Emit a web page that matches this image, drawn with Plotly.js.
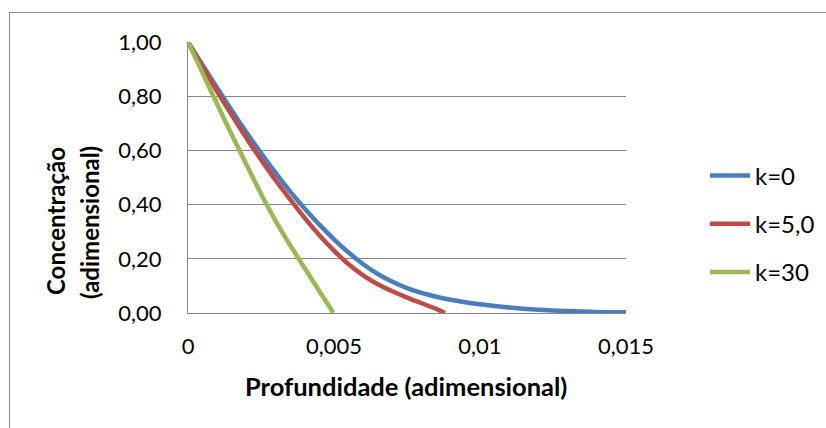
<!DOCTYPE html>
<html>
<head>
<meta charset="utf-8">
<script src="https://cdn.plot.ly/plotly-3.0.1.min.js"></script>
<style>
  html, body { margin: 0; padding: 0; background: #fff; }
  #wrap { position: relative; width: 826px; height: 428px; overflow: hidden; }
  #chart { position: absolute; left: 0; top: 0; width: 826px; height: 428px; }
  #frame { position: absolute; left: 9px; top: 12px; width: 900px; height: 500px;
           border-left: 1px solid #8a8a8a; border-top: 1px solid #8a8a8a; pointer-events: none; }
</style>
</head>
<body>
<div id="wrap">
  <div id="chart"></div>
  <div id="frame"></div>
</div>
<script>
// Depth (dimensionless) and concentration values
const depthK0   = [0, 0.0005, 0.001, 0.0015, 0.002, 0.0025, 0.003, 0.0035, 0.004, 0.0045, 0.005, 0.0055, 0.006, 0.0065, 0.007, 0.0075, 0.008, 0.0085, 0.009, 0.0095, 0.010, 0.011, 0.012, 0.013, 0.014, 0.015];
const concK0    = [1.00, 0.915, 0.83, 0.747, 0.667, 0.59, 0.517, 0.448, 0.385, 0.326, 0.272, 0.223, 0.18, 0.144, 0.115, 0.092, 0.074, 0.06, 0.049, 0.04, 0.032, 0.02, 0.012, 0.007, 0.004, 0.003];

const depthK5   = [0, 0.0005, 0.001, 0.0015, 0.002, 0.0025, 0.003, 0.0035, 0.004, 0.0045, 0.005, 0.0055, 0.006, 0.0065, 0.007, 0.0075, 0.008, 0.0085, 0.0088];
const concK5    = [1.00, 0.907, 0.817, 0.73, 0.646, 0.566, 0.49, 0.419, 0.35, 0.287, 0.23, 0.18, 0.139, 0.106, 0.08, 0.057, 0.036, 0.015, 0.0];

const depthK30  = [0, 0.0005, 0.001, 0.0015, 0.002, 0.0025, 0.003, 0.0035, 0.004, 0.0045, 0.00498];
const concK30   = [1.00, 0.885, 0.77, 0.658, 0.548, 0.44, 0.34, 0.25, 0.165, 0.08, 0.0];

const seriesNames = ["k=0", "k=5,0", "k=30"];
const xTickVals = [0, 0.005, 0.01, 0.015];
const xTickText = ["0", "0,005", "0,01", "0,015"];
const yTickVals = [0, 0.2, 0.4, 0.6, 0.8, 1.0];

const FONT = "Lato, 'Open Sans', sans-serif";
const colors = ["#4A7EBB", "#BE4B48", "#98B954"];

const traces = [
  {x: depthK0, y: concK0, name: seriesNames[0]},
  {x: depthK5, y: concK5, name: seriesNames[1]},
  {x: depthK30, y: concK30, name: seriesNames[2]}
].map((t, i) => Object.assign(t, {
  type: "scatter", mode: "lines", line: {color: colors[i], width: 4.5, shape: "spline", smoothing: 0.7},
  legendgroup: "g" + i, hoverinfo: "skip"
}));

const W = 826, H = 428, L = 188, R = 200, T = 42, B = 115;
const pw = W - L - R, ph = H - T - B;
const px = v => (v - L) / pw;
const py = v => (H - B - v) / ph;

const layout = {
  width: W, height: H,
  margin: {l: L, r: R, t: T, b: B, pad: 0, autoexpand: false},
  paper_bgcolor: "#fff", plot_bgcolor: "#fff",
  separators: ",.",
  font: {family: FONT, size: 24, color: "#000"},
  showlegend: true,
  legend: {
    x: px(705), y: py(224), xanchor: "left", yanchor: "middle",
    traceorder: "grouped", tracegroupgap: 14,
    font: {family: FONT, size: 24, color: "#000"},
    itemwidth: 40, bgcolor: "rgba(0,0,0,0)"
  },
  xaxis: {
    range: [0, 0.015], tickvals: xTickVals, ticktext: xTickText,
    showgrid: false, zeroline: false, showline: true, linecolor: "#868686", linewidth: 1,
    ticks: "", ticklabelstandoff: 14, tickfont: {family: FONT, size: 22}
  },
  yaxis: {
    range: [0, 1], tickvals: yTickVals, tickformat: ".2f",
    showgrid: true, gridcolor: "#868686", gridwidth: 1,
    zeroline: false, showline: true, linecolor: "#868686", linewidth: 1,
    ticks: "", ticklabelstandoff: 21, tickfont: {family: FONT, size: 22}
  },
  annotations: [
    {text: "<b>Profundidade (adimensional)</b>", xref: "paper", yref: "paper",
     x: px(406), y: py(386), xanchor: "center", yanchor: "middle", showarrow: false,
     font: {family: FONT, size: 25.5}},
    {text: "<b>Concentração</b>", xref: "paper", yref: "paper", textangle: -90,
     x: px(56), y: py(221), xanchor: "center", yanchor: "middle", showarrow: false,
     font: {family: FONT, size: 24}},
    {text: "<b>(adimensional)</b>", xref: "paper", yref: "paper", textangle: -90,
     x: px(89), y: py(223), xanchor: "center", yanchor: "middle", showarrow: false,
     font: {family: FONT, size: 24}}
  ]
};

Plotly.newPlot("chart", traces, layout, {displayModeBar: false, staticPlot: true});
</script>
</body>
</html>
